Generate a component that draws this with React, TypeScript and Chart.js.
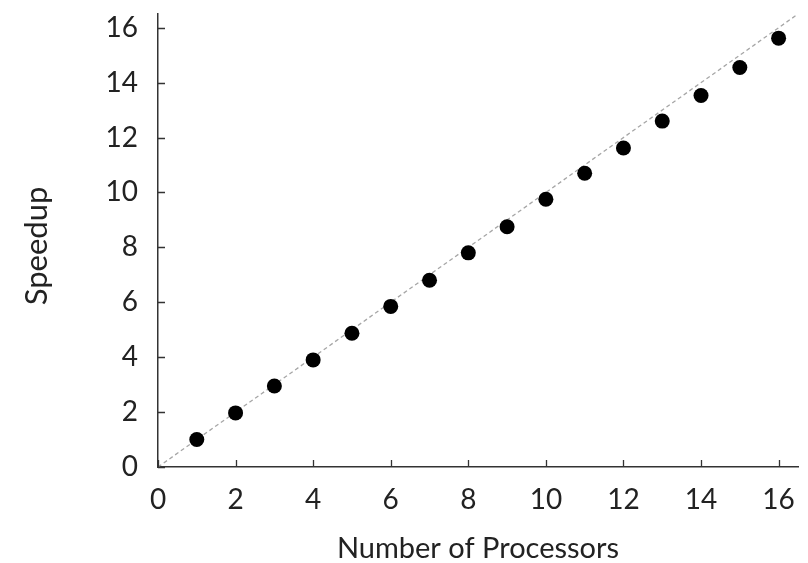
import React, { useEffect, useRef } from "react";
import { Chart, registerables } from "chart.js";

Chart.register(...registerables);

const processors = [1, 2, 3, 4, 5, 6, 7, 8, 9, 10, 11, 12, 13, 14, 15, 16];
const speedup = [1.0, 1.97, 2.95, 3.9, 4.87, 5.85, 6.8, 7.8, 8.75, 9.75, 10.7, 11.62, 12.6, 13.53, 14.55, 15.62];
const idealX = [0, 16.5];
const idealY = [0, 16.5];
const xTickValues = [0, 2, 4, 6, 8, 10, 12, 14, 16];
const yTickValues = [0, 2, 4, 6, 8, 10, 12, 14, 16];
const xTitle = "Number of Processors";
const yTitle = "Speedup";

const FONT = "Lato";
const AXIS_COLOR = "#333333";
const TEXT_COLOR = "#222222";

const inwardTicks = {
  id: "inwardTicks",
  afterDraw(chart: any) {
    const ctx = chart.ctx;
    const x = chart.scales.x;
    const y = chart.scales.y;
    const area = chart.chartArea;
    const len = 7;
    ctx.save();
    ctx.strokeStyle = AXIS_COLOR;
    ctx.lineWidth = 1.3;
    ctx.beginPath();
    x.ticks.forEach((t: any) => {
      const px = Math.round(x.getPixelForValue(t.value)) + 0.5;
      ctx.moveTo(px, area.bottom);
      ctx.lineTo(px, area.bottom - len);
    });
    y.ticks.forEach((t: any) => {
      const py = Math.round(y.getPixelForValue(t.value)) + 0.5;
      ctx.moveTo(area.left, py);
      ctx.lineTo(area.left + len, py);
    });
    ctx.stroke();
    ctx.restore();
  },
};

const yTitlePlugin = {
  id: "yTitlePlugin",
  afterDraw(chart: any) {
    const ctx = chart.ctx;
    ctx.save();
    ctx.translate(37, 246);
    ctx.rotate(-Math.PI / 2);
    ctx.fillStyle = TEXT_COLOR;
    ctx.font = `31px ${FONT}`;
    ctx.textAlign = "center";
    ctx.textBaseline = "middle";
    ctx.fillText(yTitle, 0, 0);
    ctx.restore();
  },
};

export default function App() {
  const ref = useRef<HTMLCanvasElement | null>(null);
  useEffect(() => {
    if (!ref.current) return;
    const chart = new Chart(ref.current, {
      type: "scatter",
      data: {
        datasets: [
          {
            label: "Speedup",
            data: processors.map((p, i) => ({ x: p, y: speedup[i] })),
            backgroundColor: "#000000",
            borderColor: "#000000",
            borderWidth: 0,
            pointRadius: 7.5,
            showLine: false,
          },
          {
            label: "Ideal",
            data: idealX.map((v, i) => ({ x: v, y: idealY[i] })),
            borderColor: "#a6a6a6",
            borderWidth: 1.3,
            borderDash: [4, 3],
            pointRadius: 0,
            showLine: true,
            fill: false,
          },
        ],
      },
      options: {
        animation: false,
        responsive: false,
        devicePixelRatio: 1,
        layout: { padding: { top: 14, right: 10, left: 0, bottom: 0 } },
        plugins: { legend: { display: false }, tooltip: { enabled: false } },
        scales: {
          x: {
            type: "linear",
            min: 0,
            max: 16.5,
            grid: { display: false, drawTicks: false },
            border: { display: true, color: AXIS_COLOR, width: 1.5 },
            afterBuildTicks: (s: any) => {
              s.ticks = xTickValues.map((v) => ({ value: v }));
            },
            afterFit: (s: any) => {
              s.height = 96;
              s.paddingLeft = 0;
              s.paddingRight = 0;
            },
            ticks: {
              color: TEXT_COLOR,
              padding: 16,
              maxRotation: 0,
              font: { family: FONT, size: 28 },
            },
            title: {
              display: true,
              text: xTitle,
              color: TEXT_COLOR,
              font: { family: FONT, size: 29, lineHeight: 1 },
              padding: { top: 0, bottom: 0 },
            },
          },
          y: {
            type: "linear",
            min: 0,
            max: 16.5,
            grid: { display: false, drawTicks: false },
            border: { display: true, color: AXIS_COLOR, width: 1.5 },
            afterBuildTicks: (s: any) => {
              s.ticks = yTickValues.map((v) => ({ value: v }));
            },
            afterFit: (s: any) => {
              s.width = 158;
              s.paddingTop = 0;
              s.paddingBottom = 0;
            },
            ticks: {
              color: TEXT_COLOR,
              padding: 20,
              font: { family: FONT, size: 28 },
            },
            title: { display: false },
          },
        },
      },
      plugins: [inwardTicks, yTitlePlugin],
    });
    return () => chart.destroy();
  }, []);
  return (
    <div style={{ position: "fixed", left: 0, top: 0, width: 808, height: 563, background: "#fff" }}>
      <canvas ref={ref} width={808} height={563} style={{ width: 808, height: 563, display: "block" }} />
    </div>
  );
}
